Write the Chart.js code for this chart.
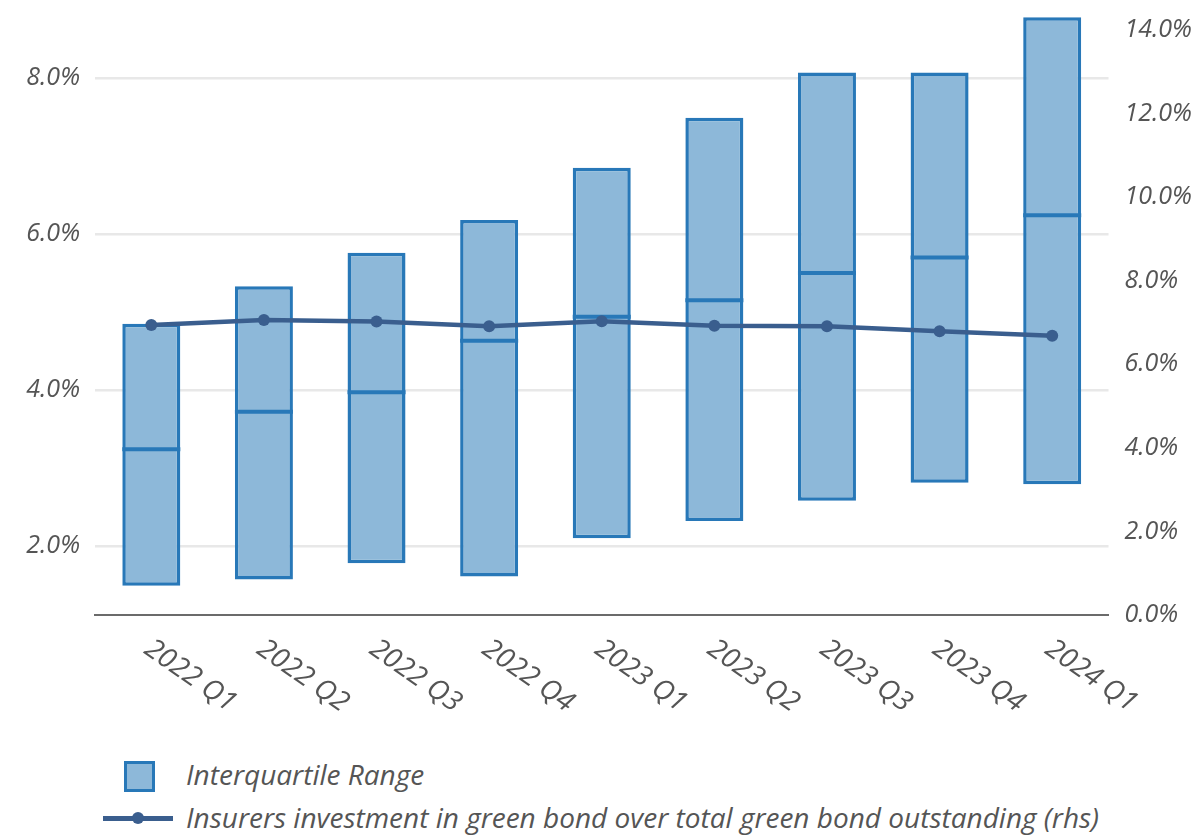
<!DOCTYPE html>
<html><head><meta charset="utf-8">
<script src="https://cdn.jsdelivr.net/npm/chart.js@4.4.1/dist/chart.umd.min.js"></script>
<style>
html,body{margin:0;padding:0;background:#fff;}
#wrap{position:relative;width:1202px;height:836px;overflow:hidden;}
#cbox{position:absolute;left:0;top:-23px;width:1202px;height:768px;}
.legtxt{position:absolute;font-family:'Open Sans',sans-serif;font-style:italic;font-size:28px;color:#555;white-space:nowrap;line-height:32px;}
</style></head><body>
<div id="wrap">
<div id="cbox"><canvas id="c"></canvas></div>
<div id="legend"></div>
</div>
<script>
const categories = ['2022 Q1','2022 Q2','2022 Q3','2022 Q4','2023 Q1','2023 Q2','2023 Q3','2023 Q4','2024 Q1'];
const lowerQuartile = [1.49, 1.57, 1.78, 1.61, 2.10, 2.32, 2.58, 2.81, 2.79];
const medianValues  = [3.24, 3.72, 3.97, 4.63, 4.94, 5.15, 5.50, 5.70, 6.24];
const upperQuartile = [4.85, 5.33, 5.76, 6.18, 6.85, 7.49, 8.07, 8.07, 8.78];
const insurerShare  = [6.94, 7.06, 7.02, 6.91, 7.03, 6.92, 6.91, 6.79, 6.68];
const leftTicks = [2, 4, 6, 8];
const rightTicks = [0, 2, 4, 6, 8, 10, 12, 14];
const seriesNames = ['Interquartile Range', 'Insurers investment in green bond over total green bond outstanding (rhs)'];

const barFill = '#8db8d9';
const barBorder = '#2878b8';
const lineColor = '#3a5e8e';
const textColor = '#555555';
const tickFont = {family: "'Open Sans', sans-serif", style: 'italic', size: 25};

const xLabelPlugin = {
  id: 'xLabels',
  afterDraw(chart) {
    const xs = chart.scales.x;
    const ctx = chart.ctx;
    ctx.save();
    ctx.font = "italic 28px 'Open Sans', sans-serif";
    ctx.fillStyle = textColor;
    ctx.textAlign = 'left';
    ctx.textBaseline = 'middle';
    categories.forEach((lab, i) => {
      const px = xs.getPixelForTick(i);
      ctx.save();
      ctx.translate(px - 4, xs.top + 31);
      ctx.rotate(35 * Math.PI / 180);
      ctx.fillText(lab, 0, 0);
      ctx.restore();
    });
    ctx.restore();
  }
};

const chart = new Chart(document.getElementById('c'), {
  data: {
    labels: categories,
    datasets: [
      {
        type: 'line', label: seriesNames[1], data: insurerShare, yAxisID: 'y1', order: 0,
        borderColor: lineColor, backgroundColor: lineColor, borderWidth: 4.5,
        pointRadius: 6, pointBackgroundColor: lineColor, pointBorderWidth: 0, tension: 0
      },
      {
        type: 'line', label: 'Median', data: medianValues, yAxisID: 'y', order: 1,
        showLine: false, pointStyle: 'line', pointRadius: 29, pointBorderWidth: 4,
        pointBorderColor: barBorder, borderColor: barBorder
      },
      {
        type: 'bar', label: seriesNames[0], yAxisID: 'y', order: 2,
        data: lowerQuartile.map((v, i) => [v, upperQuartile[i]]),
        backgroundColor: barFill, borderColor: barBorder, borderWidth: 3.5, borderSkipped: false,
        barPercentage: 0.515, categoryPercentage: 1
      }
    ]
  },
  options: {
    responsive: true, maintainAspectRatio: false, animation: false,
    layout: {padding: {top: 10, left: 0, right: 0, bottom: 0}},
    plugins: {legend: {display: false}, tooltip: {enabled: false}},
    scales: {
      x: {
        type: 'category', offset: true,
        grid: {display: false},
        border: {display: true, color: '#6b6b6b', width: 2},
        ticks: {display: false},
        afterFit(s) { s.height = 130; s.paddingLeft = 0; s.paddingRight = 0; }
      },
      y: {
        type: 'linear', position: 'left', min: 1.115, max: 8.872,
        afterBuildTicks(s) { s.ticks = leftTicks.map(v => ({value: v})); },
        afterFit(s) { s.width = 95; s.paddingTop = 0; s.paddingBottom = 0; },
        grid: {color: '#e8e8e8', lineWidth: 2.5, drawTicks: false},
        border: {display: false},
        ticks: {color: textColor, font: tickFont, padding: 15, callback: v => v.toFixed(1) + '%'}
      },
      y1: {
        type: 'linear', position: 'right', min: 0, max: 14.474,
        afterBuildTicks(s) { s.ticks = rightTicks.map(v => ({value: v})); },
        afterFit(s) { s.width = 93.5; s.paddingTop = 0; s.paddingBottom = 0; },
        grid: {display: false, drawTicks: false},
        border: {display: false},
        ticks: {color: textColor, font: tickFont, padding: 16, callback: v => v.toFixed(1) + '%'}
      }
    }
  },
  plugins: [xLabelPlugin]
});

// HTML legend
const leg = document.getElementById('legend');
leg.innerHTML =
  '<div style="position:absolute;left:124px;top:761px;width:25px;height:25px;background:' + barFill + ';border:3px solid ' + barBorder + ';"></div>' +
  '<div class="legtxt" style="left:186px;top:758px;">' + seriesNames[0] + '</div>' +
  '<div style="position:absolute;left:103px;top:816px;width:70px;height:5px;background:' + lineColor + ';"></div>' +
  '<div style="position:absolute;left:132px;top:812px;width:12px;height:12px;border-radius:50%;background:' + lineColor + ';"></div>' +
  '<div class="legtxt" style="left:186px;top:801px;">' + seriesNames[1] + '</div>';
</script>
</body></html>
